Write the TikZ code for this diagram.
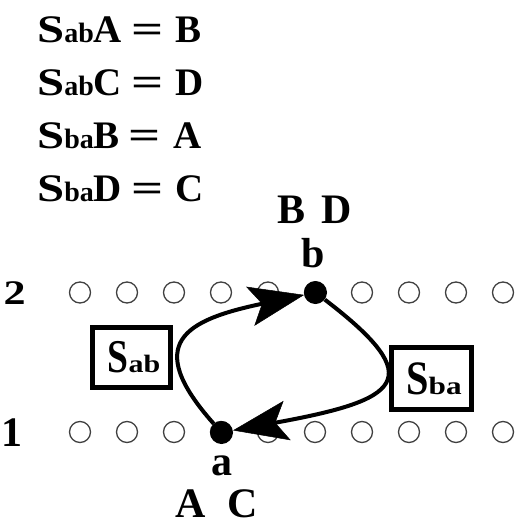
\documentclass[tikz,border=0pt]{standalone}
\usepackage{fontspec}
\setmainfont{Liberation Serif}
\usepackage{graphicx}
\usetikzlibrary{arrows.meta}

% one scattering relation: S_{xy} P = Q
\newcommand{\eqline}[3]{\scalebox{1.25}[1]{S}{\fontsize{28}{28}\selectfont #1}#2\hspace{9pt}\scalebox{1.45}[1]{=}\hspace{12pt}#3}

\begin{document}
\begin{tikzpicture}[x=1pt,y=-1pt,
  eqtext/.style={inner sep=0pt, anchor=base west, font=\bfseries\fontsize{39}{39}\selectfont},
  lbl/.style={inner sep=0pt, font=\bfseries\fontsize{42}{42}\selectfont},
  site/.style={circle, draw=black!75, line width=1.3pt, minimum size=21pt, inner sep=0pt},
  fixdot/.style={circle, fill=black, minimum size=23pt, inner sep=0pt},
  opbox/.style={draw, line width=5pt, inner sep=0pt, font=\bfseries},
  conn/.style={line width=4pt, -{Stealth[length=55pt,width=40pt,inset=12pt,line width=0.5pt]}}
]
\useasboundingbox (0,0) rectangle (521,525);

% relations
\node[eqtext] (eq1) at (37,42)  {\eqline{ab}{A}{B}};
\node[eqtext] (eq2) at (37,95)  {\eqline{ab}{C}{D}};
\node[eqtext] (eq3) at (37,148) {\eqline{ba}{B}{A}};
\node[eqtext] (eq4) at (37,201) {\eqline{ba}{D}{C}};

% row labels
\node[lbl, anchor=base west, font=\bfseries\fontsize{42}{42}\selectfont] (two) at (3.5,304) {\scalebox{1.05}[0.82]{2}};
\node[lbl, anchor=base west, font=\bfseries\fontsize{42}{42}\selectfont] (one) at (1.5,446) {1};

% lattice sites of both rows
\foreach \i/\x in {1/80,2/127,3/174,4/221,5/268,6/315,7/362,8/409,9/456,10/503} {
  \node[site] (u\i) at (\x,292.5) {};
  \node[site] (l\i) at (\x,432) {};
}

% occupied sites
\node[fixdot] (b) at (315.5,292.5) {};
\node[fixdot] (a) at (221.5,432.5) {};

% site labels
\node[lbl, anchor=base west] (bd) at (277,223) {B\hspace{16pt}D};
\node[lbl, anchor=base] (bl) at (313,267) {b};
\node[lbl, anchor=base] (al) at (222,475) {a};
\node[lbl, anchor=base west] (ac) at (175,517) {A\hspace{22pt}C};

% operators
\node[opbox, minimum width=78pt, minimum height=60pt] (sab) at (131.5,357.5)
  {\hspace*{5pt}\fontsize{47}{47}\selectfont\scalebox{0.8}[1]{S}{\fontsize{25}{25}\selectfont\scalebox{1.2}[1]{ab}}};
\node[opbox, minimum width=80pt, minimum height=62pt] (sba) at (431.5,378.5)
  {\hspace*{5pt}\fontsize{48}{48}\selectfont\scalebox{0.84}[1]{S}{\fontsize{25}{25}\selectfont\scalebox{1.25}[1]{ba}}};

% transitions between the two sites
\draw[conn] (a) .. controls (142,343) and (185,320) .. (b);
\draw[conn] (b) .. controls (430,380) and (400,400) .. (a);
\end{tikzpicture}
\end{document}
